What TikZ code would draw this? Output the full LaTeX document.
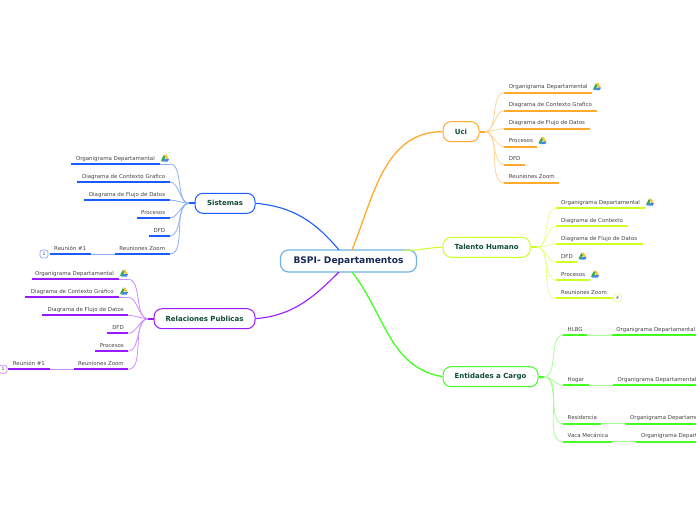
\documentclass[tikz,border=0pt]{standalone}
\usepackage{fontspec}
\setmainfont{DejaVu Sans}
\definecolor{uciC}{HTML}{FFA92E}
\definecolor{talC}{HTML}{CCFF22}
\definecolor{entC}{HTML}{44FF22}
\definecolor{sisC}{HTML}{1A5CFF}
\definecolor{relC}{HTML}{9A1AFF}
\definecolor{rootC}{HTML}{6FB4E4}
\definecolor{rootT}{HTML}{1A2A55}
\definecolor{leafT}{HTML}{444444}
\definecolor{headT}{HTML}{0F4A3A}
\definecolor{driveG}{HTML}{34A853}
\definecolor{driveY}{HTML}{FBC02D}
\definecolor{driveB}{HTML}{4285F4}
\tikzset{
	root/.style={draw=rootC, fill=white, line width=1.2pt, rounded corners=8pt, minimum width=136pt, minimum height=22pt, inner sep=0pt, text=rootT, font=\bfseries\fontsize{9.1}{9}\selectfont},
	head/.style={draw=#1, fill=white, line width=1pt, rounded corners=8pt, minimum height=20pt, inner sep=0pt, text=headT, font=\bfseries\fontsize{7}{7}\selectfont},
	leaf/.style={inner sep=0pt, text=leafT, font=\fontsize{5.45}{6}\selectfont},
	under/.style={draw=#1, line width=1.8pt},
	twig/.style={draw=#1!50, line width=.8pt},
	badge/.style={draw=#1!50, fill=white, line width=.8pt, rounded corners=2.5pt, minimum width=8pt, minimum height=8pt, inner sep=0pt, text=leafT, font=\fontsize{4.5}{5}\selectfont},
	pics/drive/.style={code={
		\fill[driveG] (-4,2.5) -- (-1,-3.2) -- (.4,-.6) -- (-2.4,3.6) -- cycle;
		\fill[driveY] (-1,-3.4) -- (1.2,-3.4) -- (4,1.5) -- (1.5,1.5) -- cycle;
		\fill[driveB] (-2.2,3.6) -- (-.8,1) -- (4,1) -- (2.7,3.6) -- cycle;
	}}
}
\begin{document}
\begin{tikzpicture}[x=1pt, y=-1pt]
	\useasboundingbox (0,0) rectangle (696,520);
	% central node and the five branches
	\node[root] (BSPI) at (348.5,261) {BSPI- Departamentos};
	\node[head=uciC, minimum width=36pt] (Uci) at (461,131.7) {Uci};
	\node[head=talC, minimum width=87pt] (Talento) at (486.7,247.3) {Talento Humano};
	\node[head=entC, minimum width=95pt] (Entidades) at (490.5,376.7) {Entidades a Cargo};
	\node[head=sisC, minimum width=60pt] (Sistemas) at (225,203.3) {Sistemas};
	\node[head=relC, minimum width=101pt] (Relaciones) at (204.5,318.7) {Relaciones Publicas};
	\coordinate (rootNE) at (352,250);
	\coordinate (rootE) at (403,250);
	\coordinate (rootSE) at (352,272);
	\coordinate (rootNW) at (339,250);
	\coordinate (rootSW) at (339,272);
	\draw[uciC, line width=1.3pt] (rootNE) to[out=68, in=180] (Uci.west);
	\draw[talC, line width=1pt] (rootE) to[out=-5, in=180] (Talento.west);
	\draw[entC, line width=1.3pt] (rootSE) to[out=-52, in=170] (Entidades.west);
	\draw[sisC, line width=1.1pt] (rootNW) to[out=130, in=-5] (Sistemas.east);
	\draw[relC, line width=1.1pt] (rootSW) to[out=-135, in=5] (Relaciones.east);
	% hubs
	\coordinate (uciHub) at (485,131.7);
	\coordinate (talHub) at (537,247.3);
	\coordinate (entHub) at (544,376.7);
	\coordinate (sisHub) at (189,203.3);
	\coordinate (relHub) at (148,318.7);
	\draw[under=uciC] (Uci.east) -- (uciHub);
	\draw[under=talC] (Talento.east) -- (talHub);
	\draw[under=entC] (Entidades.east) -- (entHub);
	\draw[under=sisC] (Sistemas.west) -- (sisHub);
	\draw[under=relC] (Relaciones.west) -- (relHub);
	% Uci
	\foreach \n/\txt/\ly/\xe in {1/Organigrama Departamental/92.7/592, 2/Diagrama de Contexto Grafico/110.7/596.7, 3/Diagrama de Flujo de Datos/128.7/590, 4/Procesos/146.7/537.3, 5/DFD/164.7/525, 6/Reuniones Zoom/182.7/559} {
		\coordinate (ua\n) at (504,\ly);
		\coordinate (ub\n) at (\xe,\ly);
		\node[leaf, anchor=base west] (ut\n) at (508.7,\ly-4.2) {\txt};
		\draw[twig=uciC] (uciHub) to[out=0, in=180, looseness=.8] (ua\n);
		\draw[under=uciC] (ua\n) -- (ub\n);
	}
	\pic at (597,86.5) {drive};
	\pic at (542.5,140.5) {drive};
	% Talento Humano
	\foreach \n/\txt/\ly/\xe in {1/Organigrama Departamental/208.3/645, 2/Diagrama de Contexto/226.3/627.7, 3/Diagrama de Flujo de Datos/244.3/642.7, 4/DFD/262.3/577, 5/Procesos/280.3/590, 6/Reuniones Zoom/298.3/612.7} {
		\coordinate (ta\n) at (556,\ly);
		\coordinate (tb\n) at (\xe,\ly);
		\node[leaf, anchor=base west] (tt\n) at (561,\ly-4) {\txt};
		\draw[twig=talC] (talHub) to[out=0, in=180, looseness=.8] (ta\n);
		\draw[under=talC] (ta\n) -- (tb\n);
	}
	\pic at (650,202) {drive};
	\pic at (582.5,256) {drive};
	\pic at (595,274) {drive};
	\node[badge=talC] (tBadge) at (617.5,298) {4};
	% Entidades a Cargo
	\foreach \n/\txt/\txb/\ly/\xe/\xs in {1/HLBG/Organigrama Departamental/335.3/587.3/611.7, 2/Hogar/Organigrama Departamental/385.3/589/613, 3/Residencia/Organigrama Departamental/423.7/601.3/625.5, 4/Vaca Mecánica/Organigrama Departamental/441.7/612/636.3} {
		\coordinate (ea\n) at (563,\ly);
		\coordinate (eb\n) at (\xe,\ly);
		\coordinate (ec\n) at (\xs,\ly);
		\coordinate (ed\n) at (696,\ly);
		\node[leaf, anchor=base west] (et\n) at (567.5,\ly-4) {\txt};
		\node[leaf, anchor=base west] (eo\n) at (\xs+4.5,\ly-4) {\txb};
		\draw[twig=entC] (entHub) to[out=0, in=180, looseness=.8] (ea\n);
		\draw[under=entC] (ea\n) -- (eb\n);
		\draw[twig=entC] (eb\n) -- (ec\n);
		\draw[under=entC] (ec\n) -- (ed\n);
	}
	% Sistemas
	\foreach \n/\txt/\ly/\xs/\xe/\xt in {1/Organigrama Departamental/164/71.3/160/155, 2/Diagrama de Contexto Grafico/182/77.3/170/165.3, 3/Diagrama de Flujo de Datos/200/84/170/165.3, 4/Procesos/218/136.7/170/165.3, 5/DFD/236/149.3/170/165.3, 6/Reuniones Zoom/254/115/170/165.3} {
		\coordinate (sa\n) at (170,\ly);
		\coordinate (se\n) at (\xe,\ly);
		\coordinate (sb\n) at (\xs,\ly);
		\node[leaf, anchor=base east] (st\n) at (\xt,\ly-4) {\txt};
		\draw[twig=sisC] (sisHub) to[out=180, in=0, looseness=.8] (sa\n);
		\draw[twig=sisC] (sa\n) -- (se\n);
		\draw[under=sisC] (se\n) -- (sb\n);
	}
	\pic at (165,158) {drive};
	\coordinate (sr1) at (91,254);
	\coordinate (sr2) at (50,254);
	\draw[twig=sisC] (sb6) -- (sr1);
	\draw[under=sisC] (sr1) -- (sr2);
	\node[leaf, anchor=base east] (sReunion) at (86.3,250) {Reunión \#1};
	\node[badge=sisC] (sBadge) at (44,254) {1};
	% Relaciones Publicas
	\foreach \n/\txt/\ly/\xs/\xe/\xt in {1/Organigrama Departamental/279.3/32.3/119/114, 2/Diagrama de Contexto Gráfico/297.3/25.3/118.5/114, 3/Diagrama de Flujo de Datos/315.3/42.3/128.3/124, 4/DFD/333.3/107.3/128.3/124, 5/Procesos/351.3/95/128.3/124, 6/Reuniones Zoom/369.3/74/128.3/124} {
		\coordinate (ra\n) at (128.3,\ly);
		\coordinate (re\n) at (\xe,\ly);
		\coordinate (rb\n) at (\xs,\ly);
		\node[leaf, anchor=base east] (rt\n) at (\xt,\ly-4) {\txt};
		\draw[twig=relC] (relHub) to[out=180, in=0, looseness=.8] (ra\n);
		\draw[twig=relC] (ra\n) -- (re\n);
		\draw[under=relC] (re\n) -- (rb\n);
	}
	\pic at (124,273) {drive};
	\pic at (124,291) {drive};
	\coordinate (rr1) at (50,369.3);
	\coordinate (rr2) at (8,369.3);
	\draw[twig=relC] (rb6) -- (rr1);
	\draw[under=relC] (rr1) -- (rr2);
	\node[leaf, anchor=base east] (rReunion) at (45,365.3) {Reunión \#1};
	\node[badge=relC] (rBadge) at (3,369.3) {1};
\end{tikzpicture}
\end{document}
